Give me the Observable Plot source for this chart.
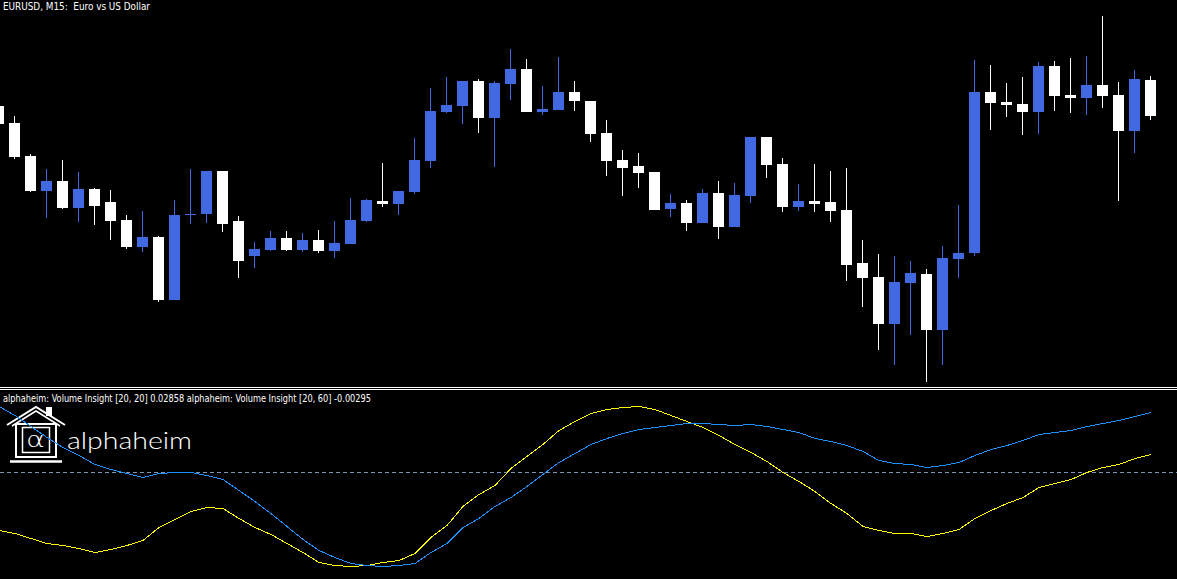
<!DOCTYPE html>
<html>
<head>
<meta charset="utf-8">
<script src="https://cdn.jsdelivr.net/npm/d3@7"></script>
<script src="https://cdn.jsdelivr.net/npm/@observablehq/plot@0.6"></script>
<style>
  html, body { margin: 0; padding: 0; background: #000; overflow: hidden; }
  #chart { position: relative; width: 1177px; height: 579px; background: #000; }
  #deco { position: absolute; left: 0; top: 0; }
  #top { position: absolute; left: 0; top: 0; }
  #sep { position: absolute; left: 0; top: 387px; width: 1177px; height: 1px;
         border-top: 1px solid #fff; border-bottom: 1px solid #fff; background: #000; }
  #bottom { position: absolute; left: 0; top: 390px; }
</style>
</head>
<body>
<div id="chart">
  <svg id="deco" width="1177" height="579">
    <text x="3" y="10" fill="#fff" font-family="DejaVu Sans" font-size="10" style="white-space:pre"
          textLength="147" lengthAdjust="spacingAndGlyphs">EURUSD, M15:  Euro vs US Dollar</text>
    <text x="3" y="402" fill="#fff" font-family="DejaVu Sans" font-size="10" style="white-space:pre"
          textLength="368" lengthAdjust="spacingAndGlyphs">alphaheim: Volume Insight [20, 20] 0.02858 alphaheim: Volume Insight [20, 60] -0.00295</text>
    <g fill="none" stroke="#fff">
      <polyline points="7,425 36,407 65,425" stroke-width="2"/>
      <polyline points="12,426 36,411 60,426" stroke-width="1.5"/>
      <rect x="16" y="424" width="40" height="33" stroke-width="2"/>
      <rect x="22.5" y="427.5" width="27" height="25" stroke-width="1.5"/>
      <line x1="10" y1="461.5" x2="62" y2="461.5" stroke-width="2.5"/>
    </g>
    <rect x="46" y="407" width="6" height="9" fill="#fff"/>
    <text x="26" y="447" fill="#fff" font-family="'DejaVu Sans'" font-weight="200" font-size="22"
          textLength="19" lengthAdjust="spacingAndGlyphs">α</text>
    <text x="67" y="449" fill="#fff" font-family="Lato, 'Noto Sans'" font-weight="300" font-size="23"
          textLength="125" lengthAdjust="spacingAndGlyphs">alphaheim</text>
  </svg>
  <div id="top"></div>
  <div id="sep"></div>
  <div id="bottom"></div>
</div>
<script>
// EURUSD M15 candles, prices in points (0.1 pip) above a base level
const open  = [294,277,244,209,219,192,211,198,180,153,163,100,185,186,229,179,144,150,162,150,160,149,156,179,199,196,208,239,288,294,319,282,316,331,288,290,308,299,267,240,234,228,191,197,177,207,173,204,263,236,193,199,198,190,137,123,76,117,126,70,141,147,308,298,296,288,334,305,302,315,305,269,320];
const high  = [294,284,246,231,240,228,212,210,185,189,164,200,231,229,229,184,158,169,169,167,170,179,202,201,237,209,262,312,323,319,321,319,351,341,314,343,319,299,280,250,247,228,206,200,211,219,217,263,263,242,216,236,229,232,160,146,144,139,131,154,195,340,335,317,323,338,339,342,344,384,318,330,324];
const low   = [276,241,208,182,191,178,175,160,151,148,98,100,176,177,168,122,132,149,149,148,147,142,156,178,193,185,206,232,287,276,267,233,300,288,285,290,289,258,224,204,212,190,183,169,177,161,173,197,222,188,189,188,178,119,93,50,35,65,18,35,122,144,270,283,265,266,289,287,285,292,199,247,280];
const close = [276,243,209,219,192,211,194,179,153,163,100,185,186,229,176,139,151,162,150,160,149,157,180,200,196,209,240,289,295,319,282,317,331,288,291,308,299,266,239,232,227,190,197,177,207,173,205,263,235,193,199,196,189,135,122,76,118,127,70,142,147,308,297,295,288,334,304,302,315,304,269,321,284];

// alphaheim Volume Insight values (x 0.001)
const insight2020 = [-58,-61,-66,-71,-73,-76,-80,-77,-73,-68,-55,-47,-39,-35,-36,-46,-55,-62,-71,-80,-90,-93,-94,-93,-90,-88,-81,-65,-53,-34,-22,-13,4,16,28,42,51,59,63,65,66,63,57,51,45,37,28,20,11,0,-9,-19,-31,-41,-54,-58,-61,-61,-64,-61,-57,-46,-38,-31,-25,-15,-11,-7,0,5,8,14,18];
const insight2060 = [66,57,46,35,25,17,8,3,-1,-5,-1,0,0,-3,-7,-18,-29,-41,-54,-67,-78,-85,-91,-93,-94,-93,-91,-80,-71,-55,-46,-34,-25,-14,-2,10,19,28,34,39,43,45,47,49,49,48,47,48,46,43,40,34,31,27,21,12,9,8,5,7,10,17,23,27,32,38,40,42,46,49,52,56,60];
const levels = [0];

const W = 1177;
const BLUE = "#4169e1";
const candles = open.map((o, i) => ({i, open: o, high: high[i], low: low[i], close: close[i]}));
const bull = candles.filter(d => d.close >= d.open);
const bear = candles.filter(d => d.close < d.open);
const osc = insight2020.map((v, i) => ({i, fast: v / 1000, slow: insight2060[i] / 1000}));

const xDomain = [0.09375, 0.09375 + W / 16];
const bodyHalf = 5.5 / 16, wickHalf = 0.5 / 16;

const wickOpts = (fill) => ({x1: d => d.i - wickHalf, x2: d => d.i + wickHalf, y1: "low", y2: "high", fill});
const bodyOpts = (fill) => ({x1: d => d.i - bodyHalf, x2: d => d.i + bodyHalf, y1: "open", y2: "close", fill});

const priceChart = Plot.plot({
  width: W, height: 387, margin: 0,
  x: {type: "linear", domain: xDomain, axis: null},
  y: {domain: [13, 400], axis: null},
  style: {background: "transparent"},
  marks: [
    Plot.rect(bull, wickOpts(BLUE)),
    Plot.rect(bear, wickOpts("#ffffff")),
    Plot.rect(bull, bodyOpts(BLUE)),
    Plot.rect(bear, bodyOpts("#ffffff"))
  ]
});
document.getElementById("top").appendChild(priceChart);

const insightChart = Plot.plot({
  width: W, height: 189, margin: 0,
  x: {type: "linear", domain: xDomain, axis: null},
  y: {domain: [-0.107, 0.082], axis: null},
  style: {background: "transparent"},
  marks: [
    Plot.ruleY(levels, {stroke: "#7b95b9", strokeWidth: 1, strokeDasharray: "4,3"}),
    Plot.line(osc, {x: "i", y: "fast", stroke: "#ffff00", strokeWidth: 1, shapeRendering: "crispEdges"}),
    Plot.line(osc, {x: "i", y: "slow", stroke: "#1e90ff", strokeWidth: 1, shapeRendering: "crispEdges"})
  ]
});
document.getElementById("bottom").appendChild(insightChart);
</script>
</body>
</html>
